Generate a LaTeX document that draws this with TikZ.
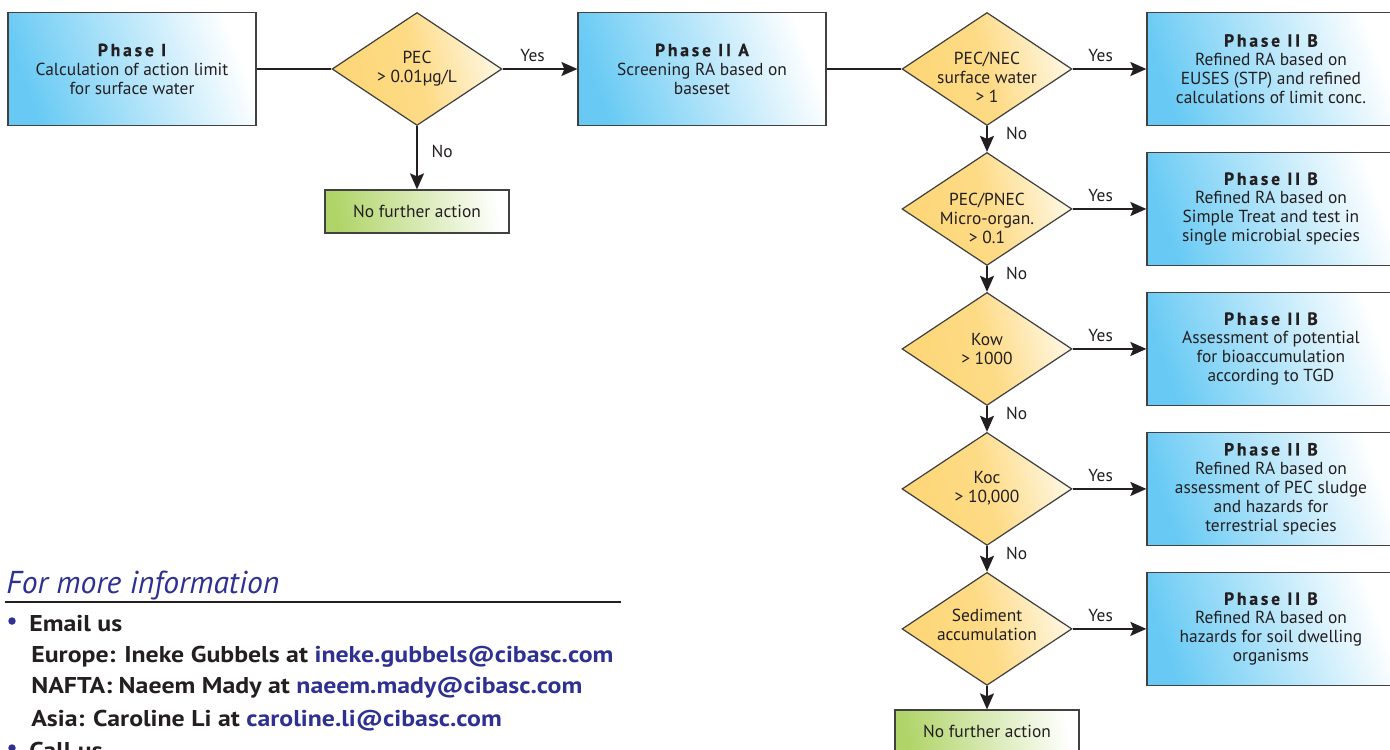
\documentclass[tikz,border=0pt]{standalone}
\usepackage{fontspec}
\setmainfont{PT Sans}
\newfontfamily\titlefont[LetterSpace=16,FakeBold=0.6]{PT Sans}
\newfontfamily\contactfont[FakeStretch=1.13]{PT Sans}
\usetikzlibrary{arrows.meta,shapes.geometric,positioning}
\definecolor{ink}{RGB}{35,31,32}
\definecolor{frame}{RGB}{65,65,65}
\definecolor{boxblue}{RGB}{104,202,244}
\definecolor{decyellow}{RGB}{253,214,118}
\definecolor{decpale}{RGB}{255,247,226}
\definecolor{stopgreen}{RGB}{176,212,104}
\definecolor{navy}{RGB}{46,49,146}
\newcommand{\phasetitle}[1]{{\titlefont\bfseries\fontsize{10}{10.8}\selectfont #1}}
\tikzstyle{every node}=[font=\fontsize{9.9}{10.8}\selectfont,text=ink]
\tikzstyle{phase}=[rectangle,
                   draw=frame,
                   line width=0.7pt,
                   minimum width=4.96cm,
                   minimum height=2.26cm,
                   align=center,
                   left color=boxblue,
                   right color=white,
                   shading angle=110]
\tikzstyle{decision}=[diamond,
                      draw=frame,
                      line width=0.7pt,
                      minimum width=3.4cm,
                      minimum height=2.26cm,
                      inner sep=0pt,
                      left color=decyellow,
                      right color=decpale,
                      middle color=decyellow!85!decpale,
                      shading angle=105]
\tikzstyle{finish}=[rectangle,
                    draw=frame,
                    line width=0.7pt,
                    minimum width=3.68cm,
                    minimum height=0.86cm,
                    left color=stopgreen,
                    right color=white,
                    shading angle=100]
\tikzstyle{link}=[line width=1.1pt,draw=ink]
\tikzstyle{bullet}=[circle,fill=navy,inner sep=0pt,minimum size=0.15cm]
\tikzstyle{contact}=[anchor=base west,inner sep=0pt,font=\contactfont\fontsize{13}{16}\selectfont\bfseries]

\begin{document}
\begin{tikzpicture}[x=0.02cm,y=-0.02cm,node distance=2.8cm,>={Stealth[length=3.2mm,width=2.8mm,inset=0.6mm]}]
\useasboundingbox (0,0) rectangle (1390,750);
% top row
\node (P_1)  [phase] at (132,69) {\phasetitle{Phase I}\\Calculation of action limit\\for surface water};
\node (D_1)  [decision] at (417,69) {};
\node (D_1t) [align=center] at (D_1) {PEC\\> 0.01µg/L};
\node (N_1)  [finish] at (417,211.5) {No further action};
\node (P_2A) [phase] at (702,69) {\phasetitle{Phase II A}\\Screening RA based on\\baseset};
% decision column
\node (D_2)  [decision] at (987,69) {};
\node (D_3)  [decision,below of=D_2] {};
\node (D_4)  [decision,below of=D_3] {};
\node (D_5)  [decision,below of=D_4] {};
\node (D_6)  [decision,below of=D_5] {};
\node (D_2t) [align=center,yshift=-0.16cm] at (D_2) {PEC/NEC\\surface water\\> 1};
\node (D_3t) [align=center,yshift=-0.18cm] at (D_3) {PEC/PNEC\\Micro-organ.\\> 0.1};
\node (D_4t) [align=center] at (D_4) {Kow\\> 1000};
\node (D_5t) [align=center,yshift=0.02cm] at (D_5) {Koc\\> 10,000};
\node (D_6t) [align=center,yshift=0.08cm] at (D_6) {Sediment\\accumulation};
\node (N_2)  [finish] at (987,731.5) {No further action};
% phase II B column
\node (B_1) [phase,right of=D_2,node distance=5.68cm] {\phasetitle{Phase II B}\\Refined RA based on\\EUSES (STP) and refined\\calculations of limit conc.};
\node (B_2) [phase,right of=D_3,node distance=5.68cm] {\phasetitle{Phase II B}\\Refined RA based on\\Simple Treat and test in\\single microbial species};
\node (B_3) [phase,right of=D_4,node distance=5.68cm] {\phasetitle{Phase II B}\\Assessment of potential\\for bioaccumulation\\according to TGD};
\node (B_4) [phase,right of=D_5,node distance=5.68cm] {\phasetitle{Phase II B}\\Refined RA based on\\assessment of PEC sludge\\and hazards for\\terrestrial species};
\node (B_5) [phase,right of=D_6,node distance=5.68cm] {\phasetitle{Phase II B}\\Refined RA based on\\hazards for soil dwelling\\organisms};
% connectors
\path (P_1) edge[link] (D_1);
\path[->] (D_1) edge[link] node[above,pos=0.4]{Yes} (P_2A);
\path[->] (D_1) edge[link] node[right=4.5pt,pos=0.4]{No} (N_1);
\path (P_2A) edge[link] (D_2);
\path[->] (D_2) edge[link] node[above,pos=0.38]{Yes} (B_1);
\path[->] (D_3) edge[link] node[above,pos=0.38]{Yes} (B_2);
\path[->] (D_4) edge[link] node[above,pos=0.38]{Yes} (B_3);
\path[->] (D_5) edge[link] node[above,pos=0.38]{Yes} (B_4);
\path[->] (D_6) edge[link] node[above,pos=0.38]{Yes} (B_5);
\path[->] (D_2) edge[link] node[right=7pt,pos=0.3]{No} (D_3);
\path[->] (D_3) edge[link] node[right=7pt,pos=0.3]{No} (D_4);
\path[->] (D_4) edge[link] node[right=7pt,pos=0.3]{No} (D_5);
\path[->] (D_5) edge[link] node[right=7pt,pos=0.3]{No} (D_6);
\path[->] (D_6) edge[link] (N_2);
% contact block
\node (info) [anchor=base west,inner sep=0pt,font=\fontsize{18}{21}\selectfont\itshape,text=navy] at (6,593) {For more information};
\draw[line width=0.8pt,ink] (5,602) -- (621,602);
\node (mail_b) [bullet] at (12,621) {};
\node (mail)   [contact] at (29,631) {Email us};
\node (eu)     [contact] at (31,662) {Europe: Ineke Gubbels at \textcolor{navy}{ineke.gubbels@cibasc.com}};
\node (na)     [contact] at (31,693) {NAFTA: Naeem Mady at \textcolor{navy}{naeem.mady@cibasc.com}};
\node (as)     [contact] at (31,726) {Asia: Caroline Li at \textcolor{navy}{caroline.li@cibasc.com}};
\node (call_b) [bullet] at (12,748) {};
\node (call)   [contact] at (29,758) {Call us};
\end{tikzpicture}
\end{document}
